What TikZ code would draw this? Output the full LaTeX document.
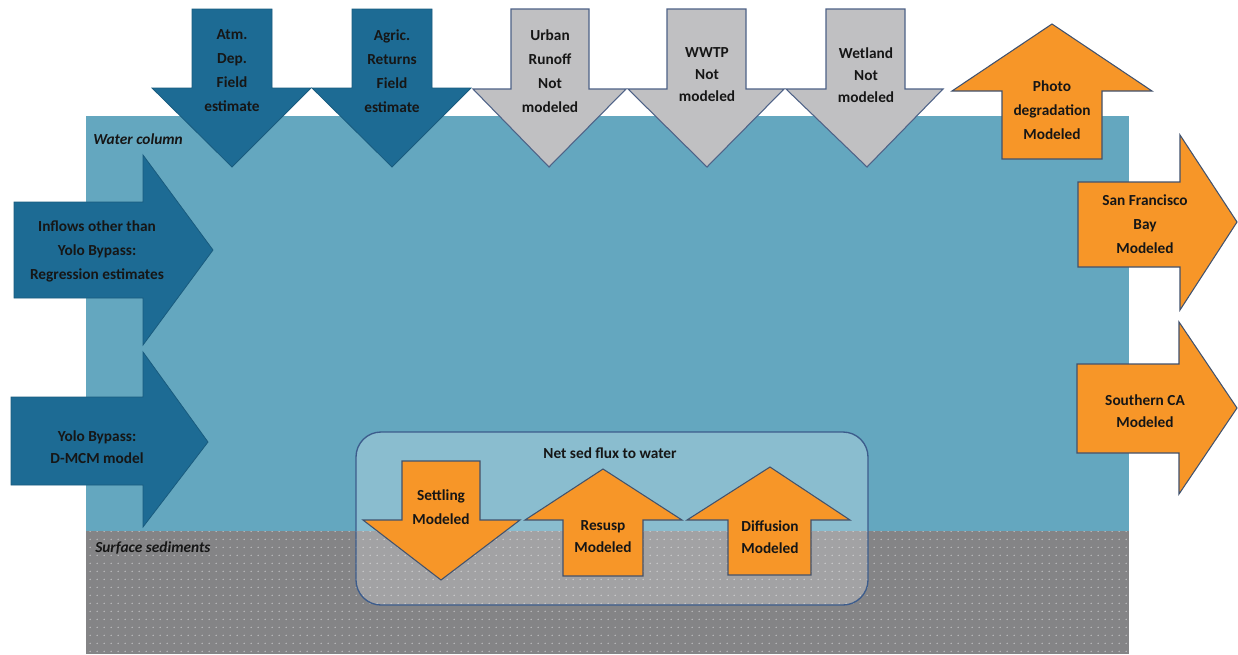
\documentclass[tikz,border=0pt]{standalone}
\usepackage{fontspec}
\setmainfont{Carlito}
\usetikzlibrary{patterns}
\pgfdeclarepatternformonly{seddots}{\pgfpointorigin}{\pgfqpoint{5pt}{6pt}}{\pgfqpoint{5pt}{6pt}}{\pgfpathcircle{\pgfqpoint{2.5pt}{3pt}}{0.65pt}\pgfusepath{fill}}
\definecolor{water}{RGB}{100,167,191}
\definecolor{sed}{RGB}{132,132,134}
\definecolor{seddot}{RGB}{185,185,188}
\definecolor{darkarrow}{RGB}{29,107,148}
\definecolor{greyarrow}{RGB}{192,192,194}
\definecolor{greyedge}{RGB}{78,98,135}
\definecolor{orangearrow}{RGB}{247,150,40}
\definecolor{orangeedge}{RGB}{65,82,110}
\definecolor{boxedge}{RGB}{60,92,140}
\definecolor{txt}{RGB}{22,22,22}
\tikzset{
  darkshape/.style={fill=darkarrow, draw=darkarrow!85!black, line width=0.6pt},
  greyshape/.style={fill=greyarrow, draw=greyedge, line width=0.8pt},
  orangeshape/.style={fill=orangearrow, draw=orangeedge, line width=0.8pt},
  lbl/.style={align=center, text=txt, inner sep=0pt, font=\bfseries\fontsize{11.5}{18}\selectfont},
  lblnarrow/.style={lbl, font=\bfseries\fontsize{11.5}{16.5}\selectfont},
  tag/.style={anchor=west, text=txt, inner sep=0pt, font=\bfseries\itshape\fontsize{11.5}{14}\selectfont},
  fluxbox/.style={draw=boxedge, line width=1pt, fill=white, fill opacity=0.25, rounded corners=18.75pt}
}
\begin{document}
\begin{tikzpicture}[x=0.75pt,y=-0.75pt]
\useasboundingbox (0,0) rectangle (1238,654);
\fill[white] (0,0) rectangle (1238,654);
% water column and sediments
\fill[water] (86,116) rectangle (1129,531);
\fill[sed] (86,531) rectangle (1129,654);
\fill[pattern=seddots, pattern color=seddot] (86,531) rectangle (1129,654);
% top inflow arrows
\draw[darkshape] (192,9) -- (272,9) -- (272,88) -- (311,88) -- (232,167) -- (152,88) -- (192,88) -- cycle;
\draw[darkshape] (352,9) -- (432,9) -- (432,88) -- (471,88) -- (392,167) -- (312,88) -- (352,88) -- cycle;
\draw[greyshape] (511,9) -- (589,9) -- (589,89) -- (626,89) -- (549,167) -- (473,89) -- (511,89) -- cycle;
\draw[greyshape] (667,9) -- (746,9) -- (746,89) -- (784,89) -- (707,167) -- (628,89) -- (667,89) -- cycle;
\draw[greyshape] (826,9) -- (905,9) -- (905,89) -- (943,89) -- (867,167) -- (786,89) -- (826,89) -- cycle;
% photodegradation
\draw[orangeshape] (1002,159) -- (1002,91) -- (952,91) -- (1052,24) -- (1152,91) -- (1102,91) -- (1102,159) -- cycle;
% outflows
\draw[orangeshape] (1078,182) -- (1180,182) -- (1180,135) -- (1237,222) -- (1180,310) -- (1180,267) -- (1078,267) -- cycle;
\draw[orangeshape] (1077,364) -- (1179,364) -- (1179,322) -- (1237,408) -- (1179,494) -- (1179,453) -- (1077,453) -- cycle;
% left inflows
\draw[darkshape] (14,202) -- (143,202) -- (143,155) -- (213,250) -- (143,345) -- (143,298) -- (14,298) -- cycle;
\draw[darkshape] (11,397) -- (143,397) -- (143,352) -- (208,442) -- (143,527) -- (143,485) -- (11,485) -- cycle;
% sediment flux box
\draw[fluxbox] (356,432) rectangle (868,605);
\draw[orangeshape] (402,461) -- (480,461) -- (480,520) -- (520,520) -- (441,580) -- (363,520) -- (402,520) -- cycle;
\draw[orangeshape] (563,576) -- (563,520) -- (525,520) -- (603,469) -- (682,520) -- (643,520) -- (643,576) -- cycle;
\draw[orangeshape] (728,575) -- (728,520) -- (687,520) -- (770,467) -- (850,520) -- (811,520) -- (811,575) -- cycle;
% labels
\node[tag] (watercol) at (93,139) {Water column};
\node[tag] (sediments) at (95,548) {Surface sediments};
\node[lbl] (atm) at (232,71) {Atm.\\Dep.\\Field\\estimate};
\node[lbl] (agric) at (392,71) {Agric.\\Returns\\Field\\estimate};
\node[lbl] (urban) at (550,71) {Urban\\Runoff\\Not\\modeled};
\node[lblnarrow] (wwtp) at (707,75) {WWTP\\Not\\modeled};
\node[lblnarrow] (wetland) at (866,75) {Wetland\\Not\\modeled};
\node[lbl] (photo) at (1052,110) {Photo\\degradation\\Modeled};
\node[lbl] (sfbay) at (1145,224) {San Francisco\\Bay\\Modeled};
\node[lblnarrow] (soca) at (1145,411) {Southern CA\\Modeled};
\node[lbl] (inflows) at (97,251) {Inflows other than\\Yolo Bypass:\\Regression estimates};
\node[lblnarrow] (yolo) at (97,447) {Yolo Bypass:\\D-MCM model};
\node[lbl] (netsed) at (610,453) {Net sed flux to water};
\node[lbl] (settling) at (441,507) {Settling\\Modeled};
\node[lblnarrow] (resusp) at (603,537) {Resusp\\Modeled};
\node[lblnarrow] (diffusion) at (770,537) {Diffusion\\Modeled};
\end{tikzpicture}
\end{document}
